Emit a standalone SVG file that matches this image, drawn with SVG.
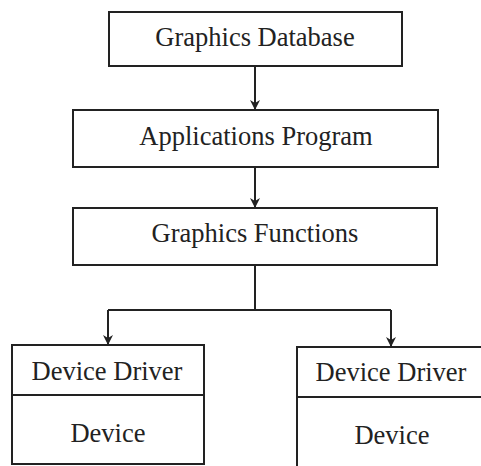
<svg xmlns="http://www.w3.org/2000/svg" width="481" height="466" viewBox="0 0 481 466">
<style>
.box{fill:#fff;stroke:#222;stroke-width:2}
.t{font-family:"Liberation Serif","Times New Roman",serif;font-size:26.5px;fill:#222;text-anchor:middle}
.c{stroke:#222;stroke-width:2;fill:none}
</style>
<defs>
<marker id="ah" markerWidth="10" markerHeight="12" refX="9" refY="5" orient="auto" markerUnits="userSpaceOnUse">
<path d="M0,0 L10,5 L0,10 L3,5 Z" fill="#222"/>
</marker>
</defs>
<rect width="481" height="466" fill="#fff"/>
<g id="connectors">
<line class="c" x1="255" y1="66" x2="255" y2="109" marker-end="url(#ah)"/>
<line class="c" x1="255" y1="167" x2="255" y2="207" marker-end="url(#ah)"/>
<polyline class="c" points="255,265 255,310"/>
<polyline class="c" points="108,310 391,310"/>
<line class="c" x1="108" y1="310" x2="108" y2="344" marker-end="url(#ah)"/>
<line class="c" x1="391" y1="310" x2="391" y2="346" marker-end="url(#ah)"/>
</g>
<g id="graphics-database">
<rect class="box" x="109" y="12" width="293" height="54"/>
<text class="t" x="255" y="46">Graphics Database</text>
</g>
<g id="applications-program">
<rect class="box" x="73" y="110" width="365" height="57"/>
<text class="t" x="256" y="145">Applications Program</text>
</g>
<g id="graphics-functions">
<rect class="box" x="73" y="208" width="364" height="57"/>
<text class="t" x="255" y="242">Graphics Functions</text>
</g>
<g id="device-left">
<rect class="box" x="12" y="345" width="192" height="119"/>
<line class="c" x1="12" y1="395" x2="204" y2="395"/>
<text class="t" x="107" y="380">Device Driver</text>
<text class="t" x="108" y="442">Device</text>
</g>
<g id="device-right">
<rect class="box" x="297" y="347" width="190" height="125"/>
<line class="c" x1="297" y1="397" x2="487" y2="397"/>
<text class="t" x="391" y="381">Device Driver</text>
<text class="t" x="392" y="444">Device</text>
</g>
</svg>
